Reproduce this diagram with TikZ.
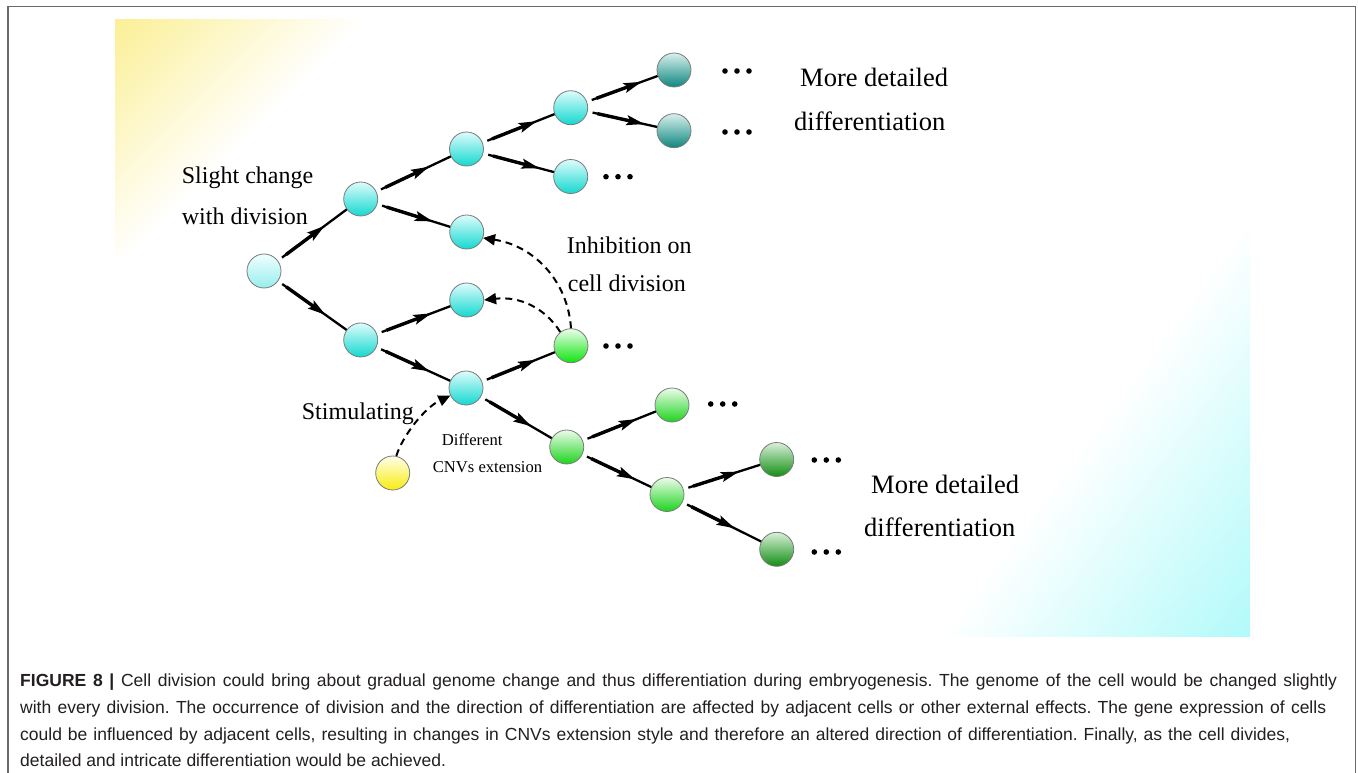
\documentclass[tikz,border=0pt]{standalone}
\usepackage{fontspec}
\setmainfont{Liberation Serif}
\newfontfamily\capfont{Liberation Sans}
\usetikzlibrary{arrows.meta,decorations.markings}

\definecolor{framegray}{HTML}{6A6A6A}
\definecolor{cellrim}{HTML}{7A7A7A}
\definecolor{yellowglow}{HTML}{FBF09A}
\definecolor{cyanglow}{HTML}{B5FAFA}
\definecolor{captext}{HTML}{231F20}

\newcommand\dotrow[2]{\foreach \k in {0,1,2} \fill (#1+12*\k,#2) circle (2.8pt);}

\begin{document}
\begin{tikzpicture}[x=1pt,y=-1pt,
  cell/.style={circle, minimum size=34pt, inner sep=0pt, draw=cellrim, line width=0.8pt},
  rootcell/.style={cell, top color={rgb,255:red,240;green,255;blue,255}, bottom color={rgb,255:red,150;green,238;blue,238}},
  cyancell/.style={cell, top color={rgb,255:red,222;green,252;blue,252}, bottom color={rgb,255:red,20;green,216;blue,208}},
  tealcell/.style={cell, top color={rgb,255:red,216;green,240;blue,238}, bottom color={rgb,255:red,14;green,134;blue,126}},
  limecell/.style={cell, top color={rgb,255:red,236;green,255;blue,236}, bottom color={rgb,255:red,14;green,228;blue,14}},
  greencell/.style={cell, top color={rgb,255:red,236;green,252;blue,236}, bottom color={rgb,255:red,28;green,212;blue,28}},
  darkcell/.style={cell, top color={rgb,255:red,216;green,240;blue,216}, bottom color={rgb,255:red,18;green,142;blue,18}},
  yellowcell/.style={cell, top color={rgb,255:red,255;green,255;blue,232}, bottom color={rgb,255:red,248;green,236;blue,16}},
  divarrow/.style={line width=2.3pt, shorten <=5pt, postaction={decorate},
    decoration={markings,
      mark=at position 0pt with {\draw[line width=3.4pt] (5pt,0) -- (44pt,0);},
      mark=at position 58pt with {\arrow{Stealth[length=18pt,width=10pt,inset=3.5pt]}}}},
  influence/.style={line width=2pt, dash pattern=on 7pt off 5pt, -{Triangle[length=12pt,width=11pt]}},
  lbl/.style={inner sep=0pt, anchor=base west, font=\fontsize{24}{28}\selectfont},
  smalllbl/.style={inner sep=0pt, anchor=base west, font=\fontsize{16.6}{20}\selectfont},
  biglbl/.style={inner sep=0pt, anchor=base west, font=\fontsize{26.5}{30}\selectfont},
  captionline/.style={inner sep=0pt, anchor=base west, text=captext, font=\capfont\fontsize{17.5}{20}\selectfont\frenchspacing},
]
\useasboundingbox (0,0) rectangle (1358,773);
\fill[white] (0,0) rectangle (1358,773);

% soft yellow corner, upper left
\begin{scope}
  \clip (115,20) rectangle (368,258);
  \begin{scope}[transform canvas={shift={(115,20)},rotate=-45}]
    \fill[yellowglow] (-10,-400) rectangle (8,400);
    \shade[left color=yellowglow, right color=white] (8,-400) rectangle (178,400);
  \end{scope}
\end{scope}

% soft cyan corner, lower right
\begin{scope}
  \clip (880,150) rectangle (1250,636.7);
  \begin{scope}[transform canvas={shift={(1250,636.7)},rotate=143.4}]
    \fill[cyanglow] (-10,-500) rectangle (10,500);
    \shade[left color=cyanglow, right color=white] (10,-500) rectangle (250,500);
  \end{scope}
\end{scope}

% frame
\draw[framegray, line width=1.6pt] (8,773) -- (8,6.5) -- (1355.5,6.5) -- (1355.5,773);

% cells
\node[rootcell]   (A)  at (264,271) {};
\node[cyancell]   (B1) at (360.7,199) {};
\node[cyancell]   (B2) at (360.7,340) {};
\node[cyancell]   (C1) at (466.5,149) {};
\node[cyancell]   (C2) at (466.7,232) {};
\node[cyancell]   (C3) at (466.7,300) {};
\node[cyancell]   (C4) at (466,388) {};
\node[cyancell]   (D1) at (570.7,107.7) {};
\node[cyancell]   (D2) at (570.7,176.5) {};
\node[tealcell]   (E1) at (674,70) {};
\node[tealcell]   (E2) at (674,130.7) {};
\node[limecell]   (G1) at (571,345.7) {};
\node[greencell]  (G2) at (566.7,447) {};
\node[greencell]  (H1) at (672,405) {};
\node[greencell]  (H2) at (667,494.5) {};
\node[darkcell]   (I1) at (776.7,459.5) {};
\node[darkcell]   (I2) at (776.7,549.3) {};
\node[yellowcell] (Y)  at (392.7,473) {};

% divisions
\draw[divarrow] (A) -- (B1);
\draw[divarrow] (A) -- (B2);
\draw[divarrow] (B1) -- (C1);
\draw[divarrow] (B1) -- (C2);
\draw[divarrow] (B2) -- (C3);
\draw[divarrow] (B2) -- (C4);
\draw[divarrow] (C1) -- (D1);
\draw[divarrow] (C1) -- (D2);
\draw[divarrow] (D1) -- (E1);
\draw[divarrow] (D1) -- (E2);
\draw[divarrow] (C4) -- (G1);
\draw[divarrow] (C4) -- (G2);
\draw[divarrow] (G2) -- (H1);
\draw[divarrow] (G2) -- (H2);
\draw[divarrow] (H2) -- (I1);
\draw[divarrow] (H2) -- (I2);

% effects of neighbouring cells
\draw[influence] (G1.north) .. controls (568,282) and (535,246) .. (C2.-20);
\draw[influence] (G1.128) .. controls (545,308) and (520,296) .. (C3.east);
\draw[influence] (Y.78) .. controls (402,437) and (424,408) .. (C4.206);

% continuation marks
\dotrow{725}{71}
\dotrow{725}{132}
\dotrow{606}{176.7}
\dotrow{606}{346}
\dotrow{710.7}{404}
\dotrow{814.3}{460}
\dotrow{814.3}{552}

% labels
\node[lbl] (slight1) at (181.7,184) {Slight change};
\node[lbl] (slight2) at (181.7,224) {with division};
\node[lbl] (inhib1) at (566.7,253.3) {Inhibition on};
\node[lbl] (inhib2) at (567.7,291.7) {cell division};
\node[lbl] (stim) at (301.7,419) {Stimulating};
\node[smalllbl] (cnv1) at (441.7,445) {Different};
\node[smalllbl] (cnv2) at (432.7,472.7) {CNVs extension};
\node[biglbl] (fine1) at (800,86.7) {More detailed};
\node[biglbl] (fine2) at (794,130.7) {differentiation};
\node[biglbl] (fine3) at (871,493) {More detailed};
\node[biglbl] (fine4) at (864,536.7) {differentiation};

% caption
\node[captionline] (cap1) at (20,686.7) {\hbox to 1317pt{\textbf{FIGURE 8 |} Cell division could bring about gradual genome change and thus differentiation during embryogenesis. The genome of the cell would be changed slightly}};
\node[captionline] (cap2) at (20,713.3) {\hbox to 1306pt{with every division. The occurrence of division and the direction of differentiation are affected by adjacent cells or other external effects. The gene expression of cells}};
\node[captionline] (cap3) at (20,740) {\hbox to 1270pt{could be influenced by adjacent cells, resulting in changes in CNVs extension style and therefore an altered direction of differentiation. Finally, as the cell divides,}};
\node[captionline] (cap4) at (20,766.5) {detailed and intricate differentiation would be achieved.};
\end{tikzpicture}
\end{document}
